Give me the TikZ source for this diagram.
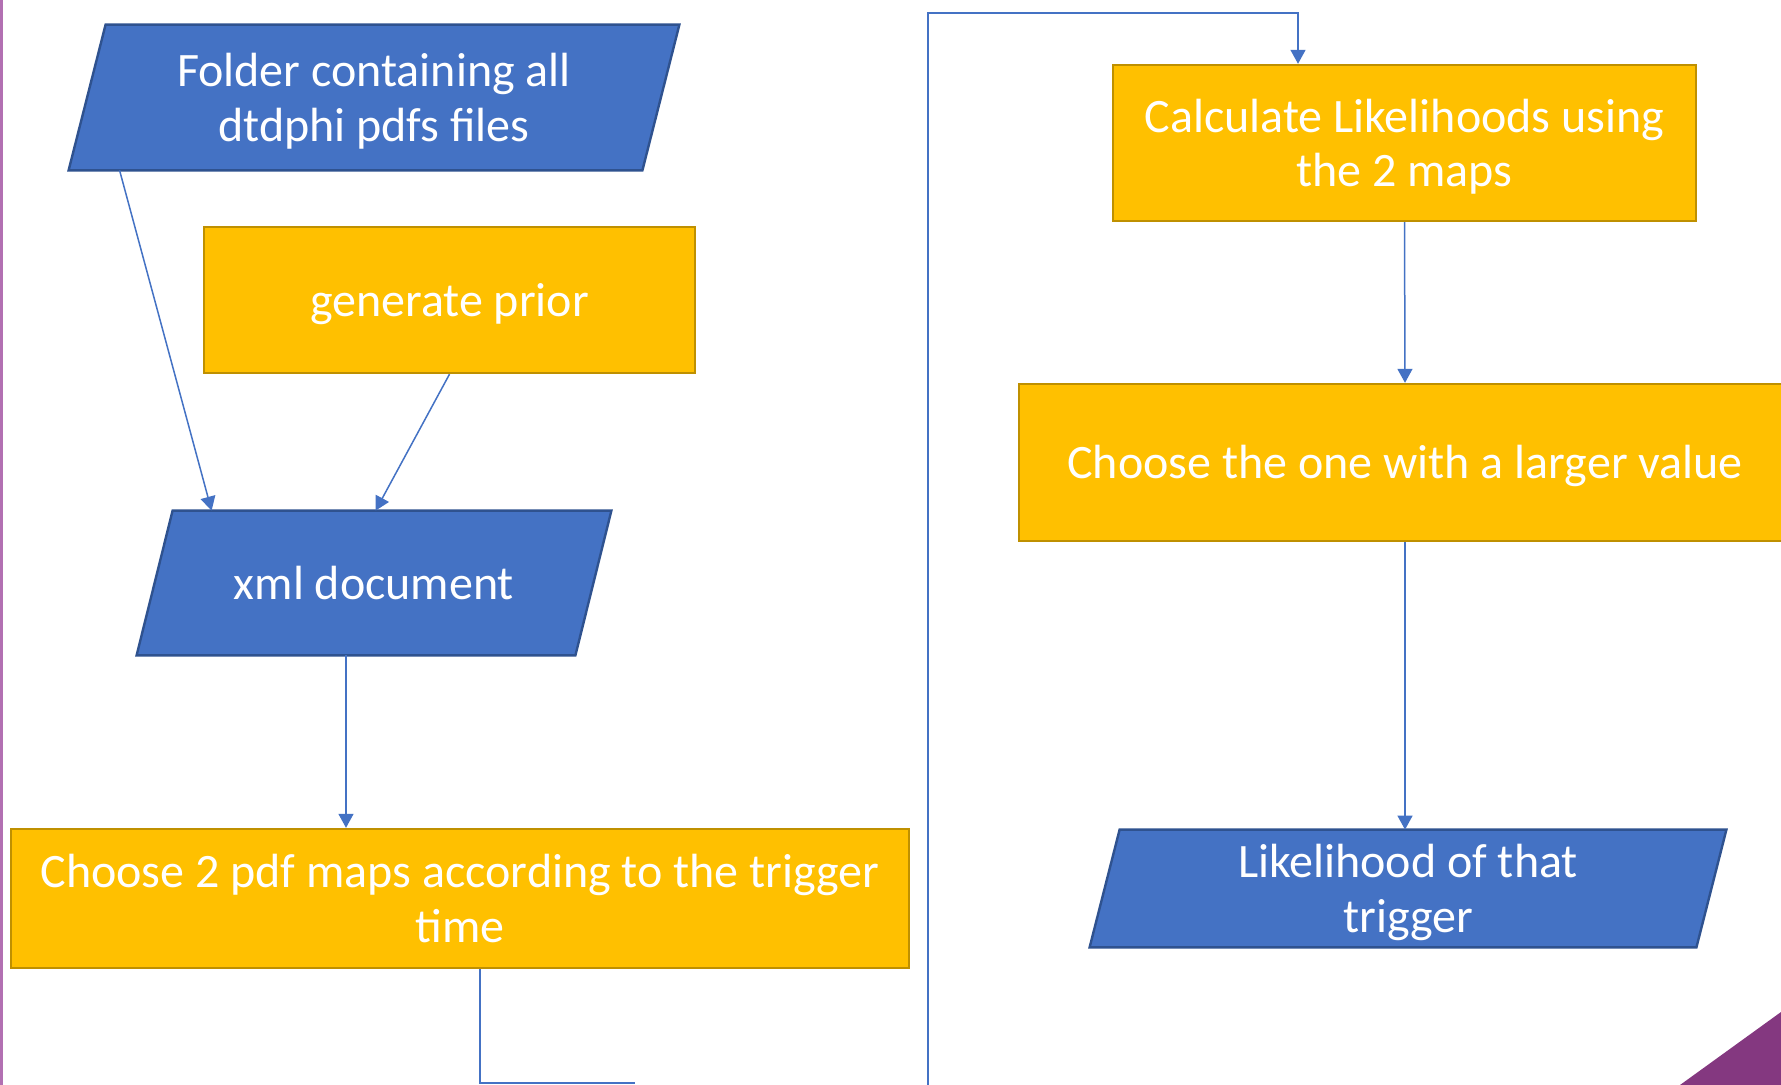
\documentclass[tikz,border=0pt]{standalone}
\usepackage{fontspec}
\setmainfont{Carlito}
\usetikzlibrary{arrows.meta,backgrounds}

\definecolor{boxblue}{HTML}{4472C4}
\definecolor{edgeblue}{HTML}{2F528F}
\definecolor{boxgold}{HTML}{FFC000}
\definecolor{edgegold}{HTML}{BF9000}
\definecolor{slidepurple}{RGB}{132,56,128}
\definecolor{sidepurple}{RGB}{178,112,178}

% taller first line, pushes the text a little lower in its box
\newcommand\dropline{\rule{0pt}{20.4pt}}

\begin{document}
\begin{tikzpicture}[x=0.5pt, y=-0.5pt,
    label text/.style={text=white, align=center, inner sep=0pt,
        font=\fontsize{24}{27.3}\selectfont},
    io/.style={rectangle, label text,
        append after command={\pgfextra{\begin{pgfonlayer}{background}
            \path[fill=boxblue, draw=edgeblue, line width=1.2pt]
                ([xshift=-#1]\tikzlastnode.south west) -- ([xshift=#1]\tikzlastnode.north west)
                -- ([xshift=#1]\tikzlastnode.north east) -- ([xshift=-#1]\tikzlastnode.south east) -- cycle;
            \end{pgfonlayer}}}},
    proc/.style={rectangle, fill=boxgold, draw=edgegold, line width=1.2pt, label text},
    wire/.style={draw=boxblue, line width=0.75pt},
    link/.style={wire, -{Triangle[width=7.5pt,length=7pt]}}]

    \useasboundingbox (0,0) rectangle (1781,1085);
    \begin{scope}[on background layer]
        \fill[white] (0,0) rectangle (1781,1085);
    \end{scope}

    % slide decoration
    \fill[sidepurple] (0,0) rectangle (2.5,1085);
    \fill[slidepurple] (1680,1085) -- (1781,1012) -- (1781,1085) -- cycle;

    % left column
    \node[io=9.25pt, minimum width=286.5pt, minimum height=72.5pt] (folder) at (374,97.5) {\dropline Folder containing all\\dtdphi pdfs files};
    \node[proc, minimum width=245.5pt, minimum height=73pt] (prior) at (449.5,300) {\dropline generate prior};
    \node[io=9pt, minimum width=219pt, minimum height=72pt] (xml) at (374,583) {xml document};
    \node[proc, minimum width=449pt, minimum height=69.5pt] (maps) at (460,898.5) {Choose 2 pdf maps according to the trigger\\time};

    % right column
    \node[proc, minimum width=291.5pt, minimum height=78pt] (calc) at (1404.5,143) {\dropline Calculate Likelihoods using\\the 2 maps};
    \node[proc, minimum width=386pt, minimum height=78.5pt] (choose) at (1405,462.5) {\dropline Choose the one with a larger value};
    \node[io=7.5pt, minimum width=303pt, minimum height=58.5pt] (lik) at (1408,888.5) {\dropline Likelihood of that\\trigger};

    \coordinate (exitend) at (635,1083);
    \coordinate (reentry) at (928,1085);
    \coordinate (loopcorner) at (928,13);

    \draw[link] ([xshift=16.25pt]folder.south west) -- ([xshift=28.5pt]xml.north west);
    \draw[link] (prior.south) -- ([xshift=110.5pt]xml.north west);
    \draw[link] ([xshift=-14pt]xml.south) -- ([xshift=-14pt]xml.south |- maps.north);
    \draw[wire] ([xshift=10pt]maps.south) |- (exitend);
    \draw[link] (reentry) -- (loopcorner) -| ([xshift=-53.25pt]calc.north);
    \draw[link] (calc.south) -- (choose.north);
    \draw[link] (choose.south) -- (choose.south |- lik.north);
\end{tikzpicture}
\end{document}
